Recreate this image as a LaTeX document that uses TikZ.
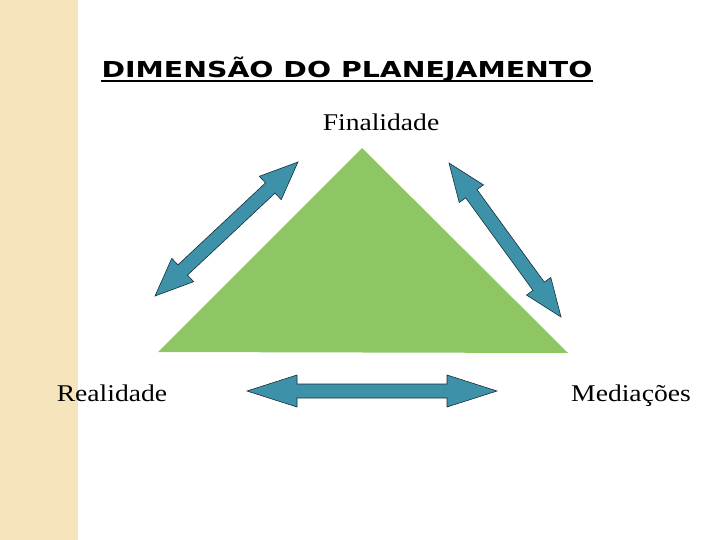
\documentclass[tikz,border=0pt]{standalone}
\usepackage{fontspec}
\setmainfont{Liberation Serif}
\newfontfamily\titlefont{DejaVu Sans}
\usetikzlibrary{calc}
\definecolor{stripebeige}{RGB}{246,229,188}
\definecolor{trianglegreen}{RGB}{143,198,100}
\definecolor{arrowteal}{RGB}{61,146,170}
\definecolor{arrowedge}{RGB}{25,45,55}

% block double arrow between two named tips, #3 = head length, #4 = head half width
\newcommand{\blockarrow}[4]{%
    \draw[blockarr] (#1)
        -- ($(#1)!#3!(#2)!#4!90:(#2)$)
        -- ($(#1)!#3!(#2)!7pt!90:(#2)$)
        -- ($(#2)!#3!(#1)!7pt!-90:(#1)$)
        -- ($(#2)!#3!(#1)!#4!-90:(#1)$)
        -- (#2)
        -- ($(#2)!#3!(#1)!#4!90:(#1)$)
        -- ($(#2)!#3!(#1)!7pt!90:(#1)$)
        -- ($(#1)!#3!(#2)!7pt!-90:(#2)$)
        -- ($(#1)!#3!(#2)!#4!-90:(#2)$)
        -- cycle;
}

\begin{document}
\begin{tikzpicture}[x=1pt, y=-1pt,
        blockarr/.style={fill=arrowteal, draw=arrowedge, line width=0.6pt, line join=miter},
        corner/.style={font=\fontsize{24}{28}\selectfont, inner sep=0pt, anchor=base, xscale=1.15}
    ]
    \useasboundingbox (0,0) rectangle (720,540);
    \fill[stripebeige] (0,0) rectangle (78,540);

    % title
    \node[font=\titlefont\bfseries\fontsize{22}{26}\selectfont, inner sep=0pt, anchor=base, xscale=1.29] (title) at (347,78) {DIMENSÃO DO PLANEJAMENTO};
    \draw[line width=2pt] ($(title.base west)+(0,3)$) -- ($(title.base east)+(0,3)$);

    % triangle
    \fill[trianglegreen] (362,148) -- (568,353) -- (158,352) -- cycle;

    % labels
    \node[corner] (finalidade) at (381,131) {Finalidade};
    \node[corner] (realidade) at (112,401) {Realidade};
    \node[corner] (mediacoes) at (631,401) {Mediações};

    % arrow tips
    \coordinate (leftlow) at (155,296);
    \coordinate (lefthigh) at (298,162);
    \coordinate (righthigh) at (449,163);
    \coordinate (rightlow) at (561,317);
    \coordinate (bottomleft) at (247,391);
    \coordinate (bottomright) at (497,391);

    \blockarrow{leftlow}{lefthigh}{38pt}{16pt}
    \blockarrow{righthigh}{rightlow}{38pt}{15pt}
    \blockarrow{bottomleft}{bottomright}{50pt}{16pt}
\end{tikzpicture}
\end{document}
